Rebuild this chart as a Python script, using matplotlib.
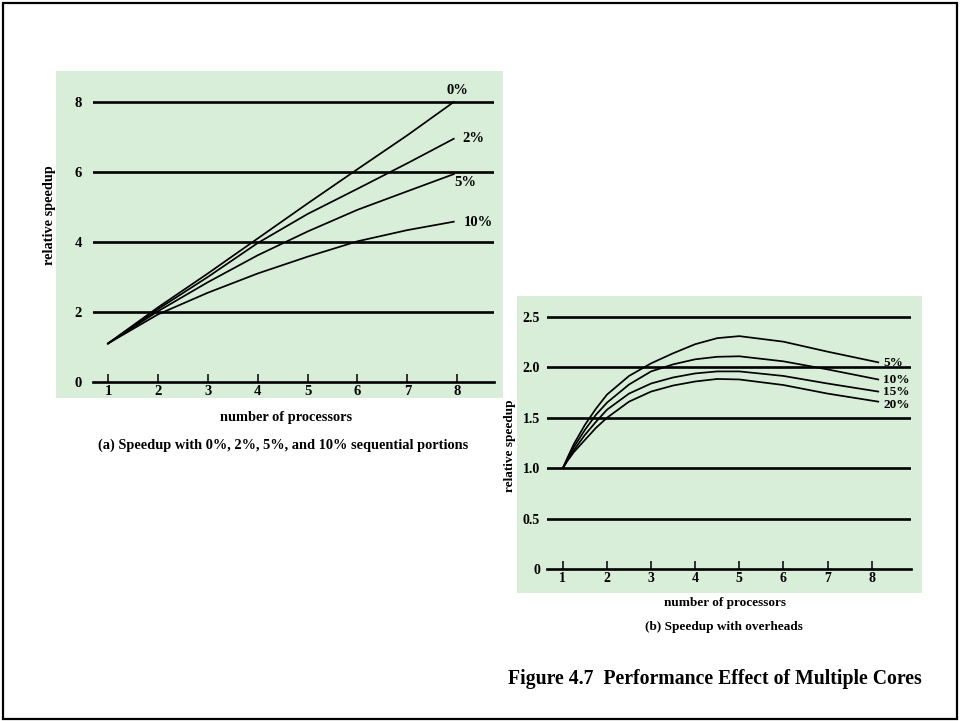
#!/usr/bin/env python3
"""Figure 4.7: performance effect of multiple cores (two panels)."""

import matplotlib

matplotlib.use("Agg")
import matplotlib.pyplot as plt  # noqa: E402
from matplotlib.patches import Rectangle  # noqa: E402

W, H = 960, 721
GREEN = "#d8eed8"
FONT = "Liberation Serif"

# (a) Amdahl speedup
procs_a = [1, 2, 3, 4, 5, 6, 7, 7.93]
speedup_a = {
    "0%": [1.1, 2.13, 3.1, 4.1, 5.1, 6.08, 7.05, 8.0],
    "2%": [1.1, 2.08, 3.0, 3.97, 4.8, 5.52, 6.25, 6.95],
    "5%": [1.1, 2.02, 2.85, 3.62, 4.3, 4.92, 5.45, 5.94],
    "10%": [1.1, 1.93, 2.55, 3.1, 3.58, 4.02, 4.34, 4.58],
}
ticks_a_y = [0, 2, 4, 6, 8]

# (b) speedup with overheads
procs_b = [1, 1.1, 1.25, 1.5, 1.75, 2, 2.5, 3, 3.5, 4, 4.5, 5, 6, 7, 8.15]
speedup_b = {
    "5%": [1.0, 1.1, 1.24, 1.43, 1.59, 1.73, 1.915, 2.04, 2.14, 2.23, 2.29, 2.31, 2.255, 2.156, 2.05],
    "10%": [1.0, 1.09, 1.21, 1.38, 1.53, 1.65, 1.83, 1.96, 2.03, 2.08, 2.105, 2.11, 2.06, 1.98, 1.88],
    "15%": [1.0, 1.08, 1.18, 1.33, 1.46, 1.58, 1.74, 1.84, 1.9, 1.94, 1.96, 1.96, 1.915, 1.84, 1.76],
    "20%": [1.0, 1.07, 1.16, 1.28, 1.4, 1.5, 1.66, 1.76, 1.82, 1.86, 1.885, 1.88, 1.825, 1.74, 1.66],
}
ticks_b_y = [0, 0.5, 1.0, 1.5, 2.0, 2.5]
ticks_b_ylabels = ["0", "0.5", "1.0", "1.5", "2.0", "2.5"]
ticks_x = [1, 2, 3, 4, 5, 6, 7, 8]


def fig_rect(x0, y0, x1, y1):
    """pixel box (top-left origin) -> figure fraction [l, b, w, h]"""
    return [x0 / W, 1 - y1 / H, (x1 - x0) / W, (y1 - y0) / H]


def ftext(fig, x, y, s, size, **kw):
    fig.text(x / W, 1 - y / H, s, fontsize=size, family=FONT, weight="bold",
             va="center", **kw)


def style_axes(ax, grid_vals, tick_size, ylabels=None, tick_len=6, xpad=3, ypad=7):
    ax.set_facecolor("none")
    for side in ("top", "right", "left"):
        ax.spines[side].set_visible(False)
    ax.spines["bottom"].set_position(("data", 0))
    ax.spines["bottom"].set_linewidth(1.9)
    for v in grid_vals:
        if v != 0:
            ax.axhline(v, color="black", lw=1.9, zorder=1)
    ax.set_xticks(ticks_x)
    ax.set_yticks(grid_vals)
    if ylabels:
        ax.set_yticklabels(ylabels)
    ax.tick_params(axis="x", direction="in", length=tick_len, width=1.1, pad=xpad,
                   labelsize=tick_size)
    ax.tick_params(axis="y", length=0, pad=ypad, labelsize=tick_size)
    for lab in ax.get_xticklabels() + ax.get_yticklabels():
        lab.set_family(FONT)
        lab.set_weight("bold")


fig = plt.figure(figsize=(W / 100, H / 100), dpi=100)

# outer frame
fig.add_artist(Rectangle((3 / W, 2 / H), 954 / W, 716 / H, transform=fig.transFigure,
                         fill=False, ec="black", lw=1.6))

# green backgrounds
l, b, w, h = fig_rect(56, 71, 503, 398)
fig.add_artist(Rectangle((l, b), w, h, transform=fig.transFigure, fc=GREEN, ec="none",
                         zorder=0))
l, b, w, h = fig_rect(517, 296, 922, 593)
fig.add_artist(Rectangle((l, b), w, h, transform=fig.transFigure, fc=GREEN, ec="none",
                         zorder=0))

# panel (a): x_px = 108 + (x-1)*49.9, y_px = 382 - 35*v
ax_a = fig.add_axes(fig_rect(93, 88, 494.2, 385.5))
ax_a.set_xlim(0.7, 8.74)
ax_a.set_ylim(-0.1, 8.4)
style_axes(ax_a, ticks_a_y, 10.5, tick_len=6, xpad=2.5, ypad=8)
for name, vals in speedup_a.items():
    ax_a.plot(procs_a, vals, color="black", lw=1.25, zorder=3)

label_pos_a = {"0%": (457, 91), "2%": (473, 139), "5%": (465, 182), "10%": (478, 222)}
for name, (x, y) in label_pos_a.items():
    ftext(fig, x, y, name, 10.5, ha="center")

ftext(fig, 49, 215, "relative speedup", 10.3, ha="center", rotation=90)
ftext(fig, 286, 417, "number of processors", 10.4, ha="center")
ftext(fig, 283, 445, "(a) Speedup with 0%, 2%, 5%, and 10% sequential portions", 10.4,
      ha="center")

# panel (b): x_px = 563 + (x-1)*44.1, y_px = 569 - 100.8*v
ax_b = fig.add_axes(fig_rect(547, 306.9, 911.3, 574))
ax_b.set_xlim(0.64, 8.9)
ax_b.set_ylim(-0.05, 2.6)
style_axes(ax_b, ticks_b_y, 10, ylabels=ticks_b_ylabels, tick_len=6, xpad=2.5, ypad=5)
for name, vals in speedup_b.items():
    ax_b.plot(procs_b, vals, color="black", lw=1.25, zorder=3)

label_pos_b = {"5%": (883, 363), "10%": (883, 380), "15%": (883, 392), "20%": (883, 405)}
for name, (x, y) in label_pos_b.items():
    ftext(fig, x, y, name, 9.5, ha="left")

ftext(fig, 510, 446, "relative speedup", 9.5, ha="center", rotation=90)
ftext(fig, 725, 603, "number of processors", 9.5, ha="center")
ftext(fig, 724, 627, "(b) Speedup with overheads", 9.5, ha="center")

ftext(fig, 508, 679, "Figure 4.7  Performance Effect of Multiple Cores", 14.2, ha="left")

fig.savefig("out.png", dpi=100)
